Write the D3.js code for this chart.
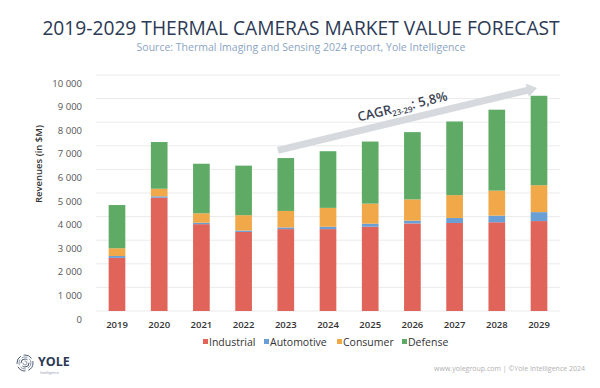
<!DOCTYPE html>
<html>
<head>
<meta charset="utf-8">
<script src="https://cdn.jsdelivr.net/npm/d3@7"></script>
<style>
  body { margin: 0; background: #fff; }
  svg { display: block; font-family: "Open Sans", "Noto Sans", sans-serif; }
</style>
</head>
<body>
<svg width="600" height="388"></svg>
<script>
"use strict";

// values ($M)
var years = ["2019", "2020", "2021", "2022", "2023", "2024", "2025", "2026", "2027", "2028", "2029"];
var industrial = [2250, 4800, 3680, 3350, 3470, 3470, 3570, 3710, 3730, 3760, 3810];
var automotive = [80, 60, 60, 60, 70, 100, 130, 120, 210, 280, 380];
var consumer = [330, 320, 400, 650, 700, 800, 850, 900, 970, 1060, 1140];
var defense = [1830, 1980, 2100, 2100, 2240, 2400, 2630, 2850, 3120, 3430, 3790];
var yTicks = [0, 1000, 2000, 3000, 4000, 5000, 6000, 7000, 8000, 9000, 10000];
var seriesNames = ["Industrial", "Automotive", "Consumer", "Defense"];
var colors = ["#e0645a", "#6a9fd6", "#f0a848", "#5fab66"];

var svg = d3.select("svg");
var margin = { top: 75, right: 40, bottom: 77, left: 96 };
var width = 600 - margin.left - margin.right,
    height = 388 - margin.top - margin.bottom;

var table = years.map(function (y, i) {
  return { year: y, Industrial: industrial[i], Automotive: automotive[i], Consumer: consumer[i], Defense: defense[i] };
});
var stacked = d3.stack().keys(seriesNames)(table);

var x = d3.scaleBand().domain(years).range([0, width]).paddingInner(0.605).paddingOuter(0.3);
var y = d3.scaleLinear().domain([0, 10000]).range([height, 0]);

var g = svg.append("g").attr("transform", "translate(" + margin.left + "," + margin.top + ")");

// title
svg.append("text").attr("x", 301).attr("y", 35).attr("text-anchor", "middle")
  .attr("font-size", 19.2).attr("fill", "#2c3954").attr("font-weight", 500)
  .text("2019-2029 THERMAL CAMERAS MARKET VALUE FORECAST");
svg.append("text").attr("x", 301).attr("y", 51).attr("text-anchor", "middle")
  .attr("font-size", 10.5).attr("fill", "#8ba5c2")
  .text("Source: Thermal Imaging and Sensing 2024 report, Yole Intelligence");

// gridlines
g.append("g").selectAll("line").data(yTicks).enter().append("line")
  .attr("x1", 0).attr("x2", width)
  .attr("y1", function (d) { return y(d); }).attr("y2", function (d) { return y(d); })
  .attr("stroke", "#ebebeb").attr("stroke-width", 1);

// y axis labels (sit a bit under their gridlines, like the original)
var fmt = function (d) { return d3.format(",")(d).replace(/,/g, " "); };
var yAxis = g.append("g").attr("transform", "translate(-11,8)")
  .call(d3.axisLeft(y).tickValues(yTicks).tickFormat(fmt).tickSize(0));
yAxis.select(".domain").remove();
yAxis.selectAll("text").attr("font-size", 9.5).attr("fill", "#555").attr("font-family", "Open Sans");

svg.append("text").attr("transform", "translate(42,164) rotate(-90)")
  .attr("text-anchor", "middle").attr("font-size", 9.5).attr("font-weight", 600).attr("fill", "#333")
  .text("Revenues (in $M)");

// bars
g.append("g").selectAll("g").data(stacked).enter().append("g")
  .attr("fill", function (d, i) { return colors[i]; })
  .selectAll("rect").data(function (d) { return d; }).enter().append("rect")
  .attr("x", function (d) { return x(d.data.year); })
  .attr("width", x.bandwidth())
  .attr("y", function (d) { return y(d[1]); })
  .attr("height", function (d) { return y(d[0]) - y(d[1]); });

// x axis
var xAxis = g.append("g").attr("transform", "translate(0," + height + ")")
  .call(d3.axisBottom(x).tickSize(0).tickPadding(10));
xAxis.select(".domain").remove();
xAxis.selectAll("text").attr("font-size", 9.5).attr("font-weight", 600).attr("fill", "#333").attr("font-family", "Open Sans");

// CAGR arrow
var ax0 = x("2023") + x.bandwidth() / 2 - 8, ay0 = y(6810);
var ax1 = x("2029") + x.bandwidth() / 2 - 2, ay1 = y(9450);
var ang = Math.atan2(ay1 - ay0, ax1 - ax0);
var len = Math.hypot(ax1 - ax0, ay1 - ay0);
var arrow = g.append("g").attr("transform", "translate(" + ax0 + "," + ay0 + ") rotate(" + (ang * 180 / Math.PI) + ")");
arrow.append("path")
  .attr("d", "M0,-3.5 L" + (len - 10) + ",-3.5 L" + (len - 10) + ",-7 L" + len + ",0 L" + (len - 10) + ",7 L" + (len - 10) + ",3.5 L0,3.5 Z")
  .attr("fill", "#d6dade");
var cagr = arrow.append("text").attr("x", len * 0.32).attr("y", -9)
  .attr("font-size", 13).attr("font-weight", 600).attr("fill", "#3b4352");
cagr.append("tspan").text("CAGR");
cagr.append("tspan").attr("font-size", 8).attr("dy", 3).text("23-29");
cagr.append("tspan").attr("dy", -3).text(": 5,8%");

// legend
var legX = [203, 264, 337, 402];
var leg = svg.append("g").selectAll("g").data(seriesNames).enter().append("g")
  .attr("transform", function (d, i) { return "translate(" + legX[i] + ",342)"; });
leg.append("rect").attr("x", 0).attr("y", -3).attr("width", 5).attr("height", 5)
  .attr("fill", function (d, i) { return colors[i]; });
leg.append("text").attr("x", 6).attr("y", 4).attr("font-size", 10.5).attr("fill", "#333").text(function (d) { return d; });

// logo
var logo = svg.append("g").attr("transform", "translate(25,363)");
[8, 6, 4, 2].forEach(function (r, i) {
  logo.append("circle").attr("r", r).attr("fill", "none")
    .attr("stroke", i % 2 ? "#8796aa" : "#4c5a72").attr("stroke-width", 1)
    .attr("stroke-dasharray", i % 2 ? "6,2" : "9,3");
});
svg.append("text").attr("x", 38).attr("y", 366).attr("font-size", 12.5).attr("font-weight", 700)
  .attr("fill", "#2c3954").text("YOLE");
svg.append("text").attr("x", 40).attr("y", 374).attr("font-size", 3.5).attr("fill", "#8796aa").text("Intelligence");

svg.append("text").attr("x", 585).attr("y", 371).attr("text-anchor", "end")
  .attr("font-size", 7).attr("fill", "#b0b0b0").text("www.yolegroup.com | ©Yole Intelligence 2024");
</script>
</body>
</html>
